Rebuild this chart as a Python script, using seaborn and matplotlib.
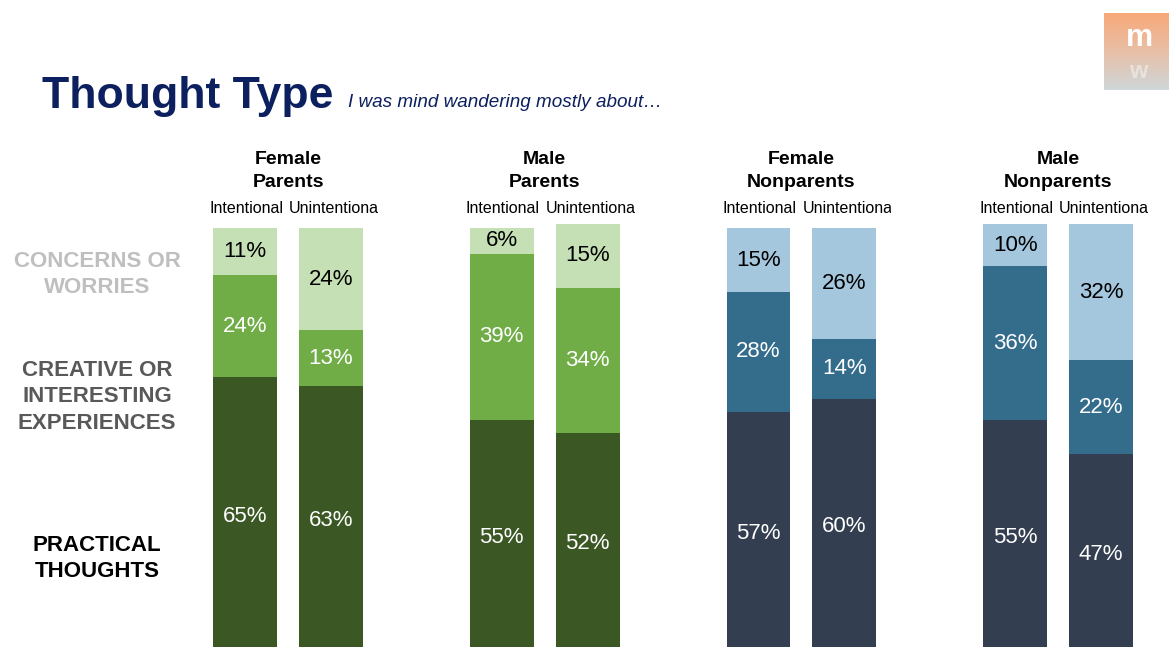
import numpy as np
import pandas as pd
import matplotlib
matplotlib.use("Agg")
import matplotlib.pyplot as plt
import seaborn as sns
from matplotlib.transforms import Bbox, blended_transform_factory
from matplotlib.colors import LinearSegmentedColormap

# ---------------- data ----------------
groups = ["Female Parents", "Male Parents", "Female Nonparents", "Male Nonparents"]
intent_types = ["Intentional", "Unintentional"]
category_labels = ["CONCERNS OR\nWORRIES", "CREATIVE OR\nINTERESTING\nEXPERIENCES", "PRACTICAL\nTHOUGHTS"]
# order: each group -> Intentional, Unintentional
practical = [65, 63, 55, 52, 57, 60, 55, 47]
creative = [24, 13, 39, 34, 28, 14, 36, 22]
concerns = [11, 24, 6, 15, 15, 26, 10, 32]

# ---------------- style ----------------
sns.set_theme(style="white")
plt.rcParams["font.family"] = ["Liberation Sans", "DejaVu Sans"]

W, H = 1169, 647
fig = plt.figure(figsize=(W / 100, H / 100), dpi=100)
fig.patch.set_facecolor("white")

rows = []
for i, g in enumerate(groups):
    for j, t in enumerate(intent_types):
        k = 2 * i + j
        rows.append(dict(group=g, type=t, practical=practical[k], creative=creative[k],
                         concerns=concerns[k]))
df = pd.DataFrame(rows)
df["lvl1"] = df["practical"]
df["lvl2"] = df["practical"] + df["creative"]
df["lvl3"] = df["lvl2"] + df["concerns"]
df["parent"] = df["group"].str.contains("Nonparents").map({False: "p", True: "n"})

palettes = {
    "p": ["#3A5724", "#70AD47", "#C5E0B4"],
    "n": ["#333E50", "#346C8C", "#A4C7DE"],
}

ax_top_px = 200
ax = fig.add_axes([0, 0, 1, (H - ax_top_px) / H])
width = 0.669
gap = 0.256

for kind, sub in df.groupby("parent"):
    cols = palettes[kind]
    for lvl, c in zip(["lvl3", "lvl2", "lvl1"], [cols[2], cols[1], cols[0]]):
        sns.barplot(data=sub, x="group", y=lvl, hue="type", order=groups,
                    hue_order=intent_types, palette={t: c for t in intent_types},
                    width=width, gap=gap, dodge=True, saturation=1, linewidth=0,
                    legend=False, ax=ax)

ax.set_xlim(-1.122, 3.432)
ax.set_ylim(1.87, 106.56)
ax.set_axis_off()

# value labels
for _, r in df.iterrows():
    i = groups.index(r["group"])
    j = intent_types.index(r["type"])
    xc = i + (j - 0.5) * width / 2
    segs = [(0, r["practical"], "white"), (r["lvl1"], r["creative"], "white"),
            (r["lvl2"], r["concerns"], "black")]
    for base, v, col in segs:
        ax.text(xc, base + v / 2, f"{v}%", ha="center", va="center", fontsize=16,
                color=col)

# headers
trans = blended_transform_factory(ax.transData, fig.transFigure)
fig.canvas.draw()
bar_w = width / 2 * (1 - gap)
for i, g in enumerate(groups):
    ax.text(i, 1 - 171 / H, g.replace(" ", "\n"), transform=trans, ha="center",
            va="center", fontsize=14, fontweight="bold", color="black", linespacing=1.5)
    for j, t in enumerate(intent_types):
        xc = i + (j - 0.5) * width / 2
        left_pix = ax.transData.transform((xc - bar_w / 2, 0))[0]
        right_pix = ax.transData.transform((xc + bar_w / 2, 0))[0]
        shift = -4 if j == 0 else -10
        txt = fig.text((left_pix + shift) / W, 1 - 208 / H, t, ha="left", va="center",
                       fontsize=11.5, color="black")
        if j == 1:
            txt.set_clip_box(Bbox([[left_pix - 30, 0], [right_pix + 15, H]]))
            txt.set_clip_on(True)

# left category labels
for lab, yc, col in zip(category_labels, [274.5, 397, 558.5],
                        ["#BFBFBF", "#595959", "black"]):
    fig.text(97 / W, 1 - yc / H, lab, ha="center", va="center", fontsize=16,
             fontweight="bold", color=col, linespacing=1.35)

# title
fig.text(42 / W, 1 - 108 / H, "Thought Type", ha="left", va="baseline", fontsize=32,
         fontweight="bold", color="#0C1F5E")
fig.text(348 / W, 1 - 107 / H, "I was mind wandering mostly about\u2026", ha="left",
         va="baseline", fontsize=13.6, style="italic", color="#0C1F5E")

# logo
lax = fig.add_axes([1104 / W, 1 - 90 / H, 65 / W, 77 / H])
cmap = LinearSegmentedColormap.from_list("logo", ["#F8A878", "#E8BFA6", "#CFD7D9"])
lax.imshow(np.linspace(0, 1, 100).reshape(-1, 1), cmap=cmap, aspect="auto",
           extent=[0, 1, 0, 1])
lax.text(0.55, 0.68, "m", ha="center", va="center", fontsize=22, fontweight="bold",
         color="white", transform=lax.transAxes)
lax.text(0.52, 0.24, "w", ha="center", va="center", fontsize=17, fontweight="bold",
         color="#F2F2F2", alpha=0.6, transform=lax.transAxes)
lax.set_axis_off()

fig.savefig("out.png", dpi=100, facecolor="white")
